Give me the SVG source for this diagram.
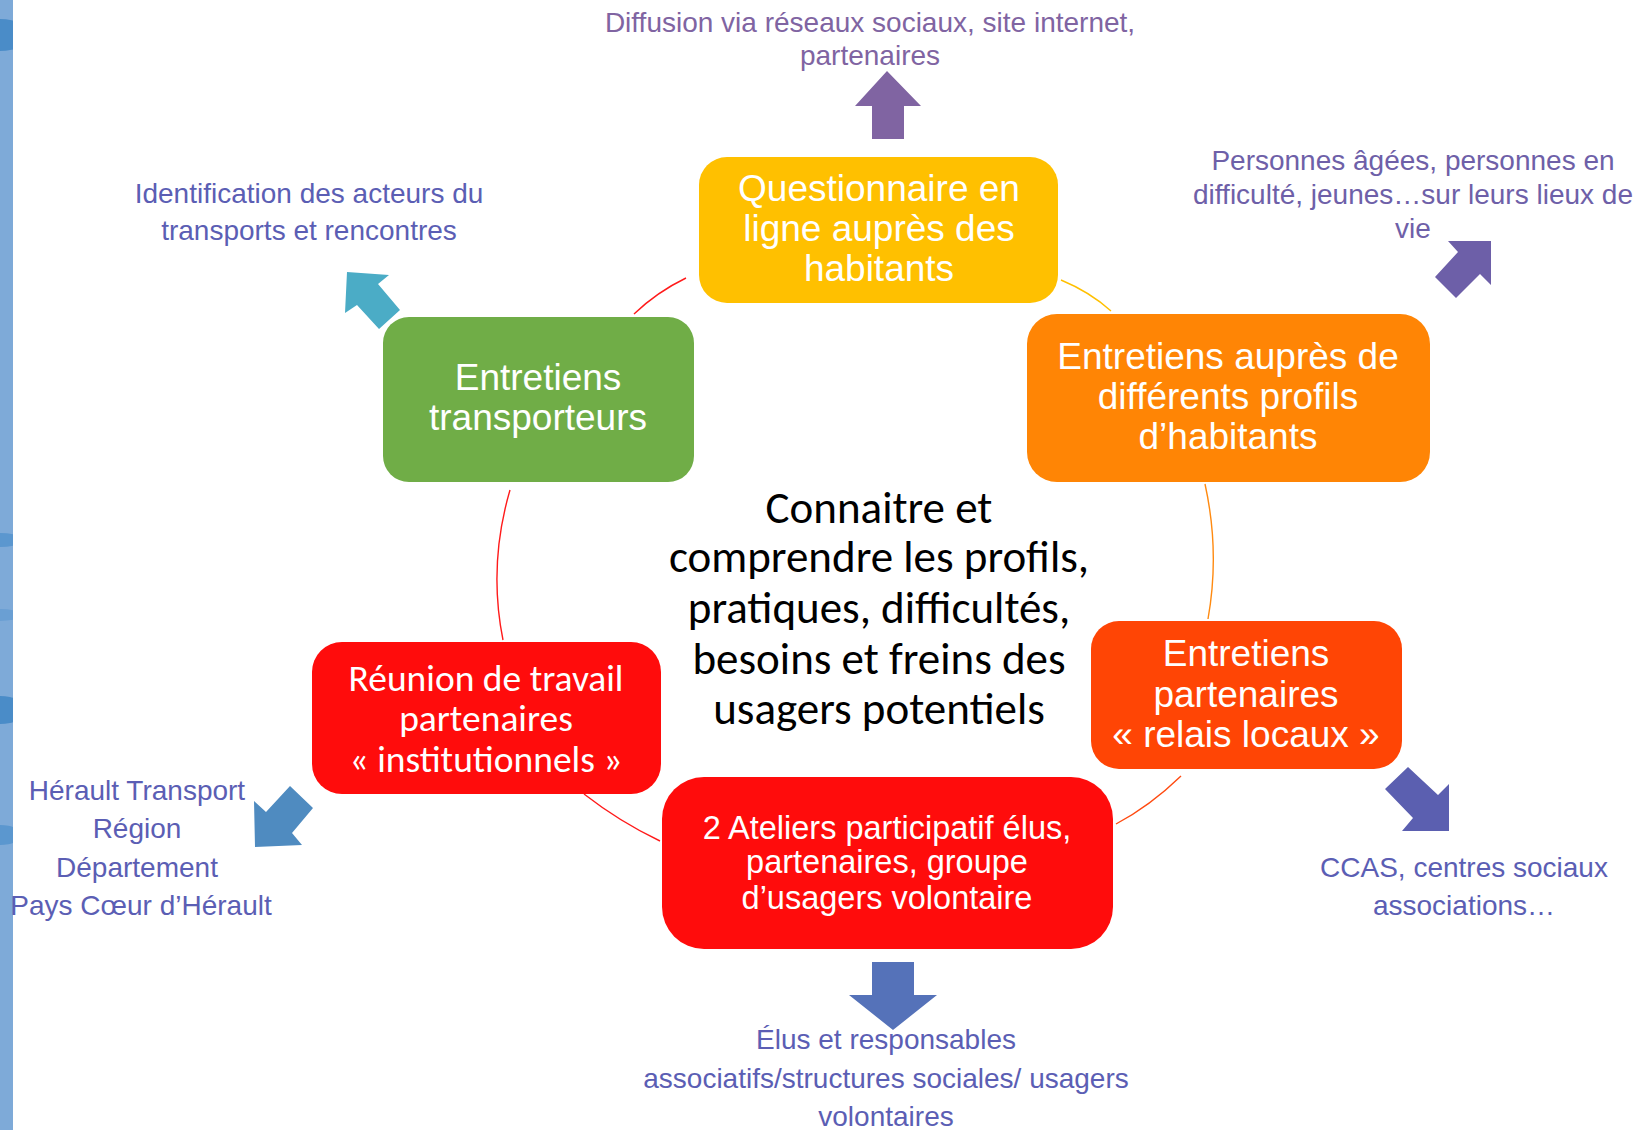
<svg xmlns="http://www.w3.org/2000/svg" width="1643" height="1130" viewBox="0 0 1643 1130">
<defs>
<style>
.n{font-family:"Liberation Sans",Arial,sans-serif;font-size:37px;fill:#fff;text-anchor:middle}
.n.s{font-size:32.5px}
.c{font-family:Carlito,Lato,sans-serif;text-anchor:middle}
.r{font-size:37.5px;fill:#fff}
.m{font-size:45px;fill:#000}
.l{font-family:"Liberation Sans",Arial,sans-serif;font-size:28px;text-anchor:middle}
.arc{fill:none;stroke-width:1.4}
</style>
<clipPath id="strip"><rect x="0" y="0" width="13" height="1130"/></clipPath>
</defs>
<rect width="1643" height="1130" fill="#fff"/>
<g id="band" clip-path="url(#strip)">
<rect x="0" y="0" width="13" height="1130" fill="#7eaad8"/>
<ellipse cx="0" cy="35" rx="30" ry="16" fill="#4a8cc8"/>
<ellipse cx="0" cy="540" rx="22" ry="7" fill="#5b97cf"/>
<ellipse cx="0" cy="615" rx="22" ry="6" fill="#6a9fd3"/>
<ellipse cx="0" cy="710" rx="26" ry="14" fill="#4a8cc8"/>
<ellipse cx="0" cy="835" rx="22" ry="10" fill="#5b97cf"/>
</g>
<g id="connectors">
<path class="arc" stroke="#ff1a1a" d="M634,314 Q657,292 686,278"/>
<path class="arc" stroke="#ffc000" d="M1061,280 Q1090,292 1111,311"/>
<path class="arc" stroke="#ff8a10" d="M1205,484 Q1220,552 1208,619"/>
<path class="arc" stroke="#ff4a10" d="M1181,776 Q1150,806 1116,824"/>
<path class="arc" stroke="#ff1a1a" d="M660,841 Q620,822 584,794"/>
<path class="arc" stroke="#ff1a1a" d="M503,640 Q488,565 510,490"/>
</g>
<g id="arrows">
<polygon fill="#8064a2" points="887,71 921,106 904,106 904,139 872,139 872,106 855,106"/>
<polygon fill="#4bacc6" points="347,272 389,275 378,284 400,310 379,329 357,305 345,313"/>
<polygon fill="#6d5fa8" points="1448,241 1491,241 1491,285 1480,274 1456,298 1435,277 1458,252"/>
<polygon fill="#4f8bc0" points="290,786 313,808 292,833 302,845 255,847 254,801 266,812"/>
<polygon fill="#5b5fb0" points="1408,767 1385,789 1413,818 1402,831 1449,831 1449,784 1438,795"/>
<polygon fill="#5572b9" points="872,962 914,962 914,995 937,995 893,1030 849,995 872,995"/>
</g>
<g id="node-questionnaire">
<rect x="699" y="157" width="359" height="146" rx="28" fill="#ffc000"/>
<text class="n" x="879" y="201">Questionnaire en</text>
<text class="n" x="879" y="241">ligne auprès des</text>
<text class="n" x="879" y="281">habitants</text>
</g>
<g id="node-transporteurs">
<rect x="383" y="317" width="311" height="165" rx="26" fill="#70ad47"/>
<text class="n" x="538" y="390">Entretiens</text>
<text class="n" x="538" y="430">transporteurs</text>
</g>
<g id="node-habitants">
<rect x="1027" y="314" width="403" height="168" rx="30" fill="#ff8505"/>
<text class="n" x="1228" y="369">Entretiens auprès de</text>
<text class="n" x="1228" y="409">différents profils</text>
<text class="n" x="1228" y="449">d’habitants</text>
</g>
<g id="node-relais">
<rect x="1091" y="621" width="311" height="148" rx="28" fill="#ff4505"/>
<text class="n" x="1246" y="666">Entretiens</text>
<text class="n" x="1246" y="707">partenaires</text>
<text class="n" x="1246" y="747">« relais locaux »</text>
</g>
<g id="node-reunion">
<rect x="312" y="642" width="349" height="152" rx="30" fill="#ff0c0c"/>
<text class="c r" x="486" y="691">Réunion de travail</text>
<text class="c r" x="486" y="731">partenaires</text>
<text class="c r" x="486" y="772">« institutionnels »</text>
</g>
<g id="node-ateliers">
<rect x="662" y="777" width="451" height="172" rx="42" fill="#ff0c0c"/>
<text class="n s" x="887" y="839">2 Ateliers participatif élus,</text>
<text class="n s" x="887" y="873">partenaires, groupe</text>
<text class="n s" x="887" y="909">d’usagers volontaire</text>
</g>
<g id="center">
<text class="c m" x="879" y="523">Connaitre et</text>
<text class="c m" x="879" y="572">comprendre les profils,</text>
<text class="c m" x="879" y="623">pratiques, difficultés,</text>
<text class="c m" x="879" y="674">besoins et freins des</text>
<text class="c m" x="879" y="724">usagers potentiels</text>
</g>
<g id="labels">
<text class="l" x="870" y="32" fill="#8064a2">Diffusion via réseaux sociaux, site internet,</text>
<text class="l" x="870" y="65" fill="#8064a2">partenaires</text>
<text class="l" x="309" y="203" fill="#5b5eb4">Identification des acteurs du</text>
<text class="l" x="309" y="240" fill="#5b5eb4">transports et rencontres</text>
<text class="l" x="1413" y="170" fill="#6e60a8">Personnes âgées, personnes en</text>
<text class="l" x="1413" y="204" fill="#6e60a8">difficulté, jeunes…sur leurs lieux de</text>
<text class="l" x="1413" y="238" fill="#6e60a8">vie</text>
<text class="l" x="137" y="800" fill="#5b5eb4">Hérault Transport</text>
<text class="l" x="137" y="838" fill="#5b5eb4">Région</text>
<text class="l" x="137" y="877" fill="#5b5eb4">Département</text>
<text class="l" x="141" y="915" fill="#5b5eb4">Pays Cœur d’Hérault</text>
<text class="l" x="1464" y="877" fill="#5b5eb4">CCAS, centres sociaux</text>
<text class="l" x="1464" y="915" fill="#5b5eb4">associations…</text>
<text class="l" x="886" y="1049" fill="#5b5eb4">Élus et responsables</text>
<text class="l" x="886" y="1088" fill="#5b5eb4">associatifs/structures sociales/ usagers</text>
<text class="l" x="886" y="1126" fill="#5b5eb4">volontaires</text>
</g>
</svg>
